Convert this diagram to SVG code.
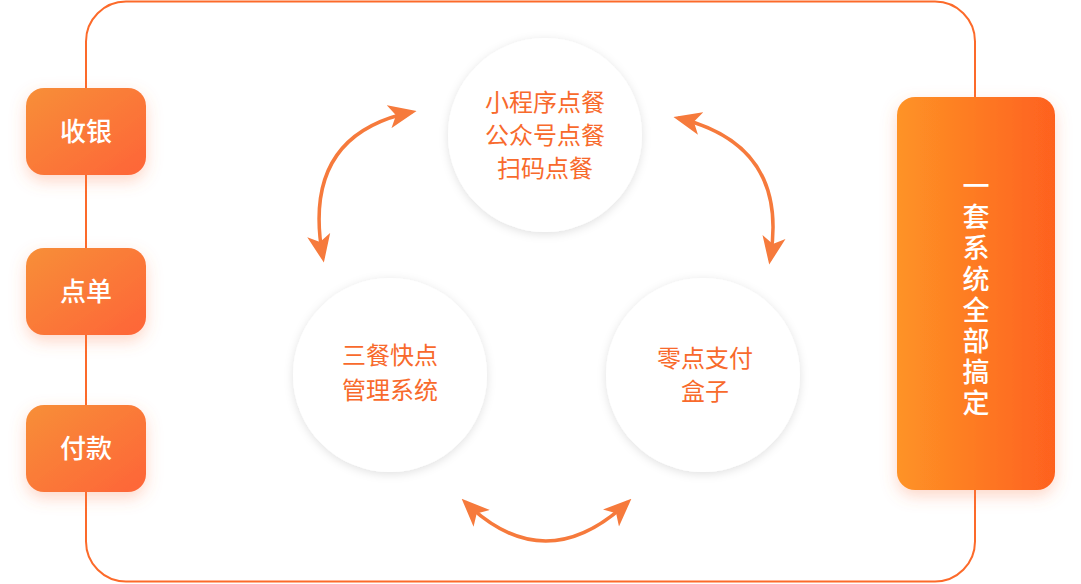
<svg xmlns="http://www.w3.org/2000/svg" width="1081" height="584" viewBox="0 0 1081 584">
<style>
.cj{font-family:"Noto Sans CJK SC","Noto Sans",sans-serif}
.bt{fill:#fff;font-size:26px;font-weight:500;text-anchor:middle}
.vt{fill:#fff;font-size:27px;font-weight:500;writing-mode:vertical-rl;text-orientation:upright;letter-spacing:4px}
.ct{fill:#f86a2c;font-size:24px;text-anchor:middle}
.circ{fill:#fff;filter:url(#cs)}
.arc{fill:none;stroke:#f67a3c;stroke-width:3.5;marker-start:url(#ah);marker-end:url(#ah)}
</style>
<defs>
<linearGradient id="g1" x1="0" y1="0" x2="1" y2="1"><stop offset="0" stop-color="#f78f38"/><stop offset="1" stop-color="#fe6438"/></linearGradient>
<linearGradient id="g2" x1="0" y1="0" x2="1" y2="0"><stop offset="0" stop-color="#fe9326"/><stop offset="1" stop-color="#fe611f"/></linearGradient>
<filter id="bs" x="-40%" y="-40%" width="180%" height="180%"><feDropShadow dx="0" dy="6" stdDeviation="8" flood-color="#fb7a4a" flood-opacity="0.3"/></filter>
<filter id="cs" x="-30%" y="-30%" width="160%" height="160%"><feDropShadow dx="0" dy="2" stdDeviation="5" flood-color="#000" flood-opacity="0.12"/></filter>
<marker id="ah" viewBox="0 0 12 10" refX="10" refY="5" markerWidth="8" markerHeight="7" orient="auto-start-reverse" markerUnits="strokeWidth"><path d="M0,0 L12,5 L0,10 L3,5 Z" fill="#f67a3c"/></marker>
</defs>
<rect x="86" y="1.5" width="889" height="580" rx="40" fill="none" stroke="#fc6a2a" stroke-width="2"/>
<g id="connectors">
<path class="arc" d="M323,258 Q300,135 412,112"/>
<path class="arc" d="M678,118 Q790,145 770,260"/>
<path class="arc" d="M465,502 Q545,580 628,502"/>
</g>
<g id="n-shouyin"><rect x="26" y="88" width="120" height="87" rx="18" fill="url(#g1)" filter="url(#bs)"/><text class="cj bt" x="86" y="141">收银</text></g>
<g id="n-diandan"><rect x="26" y="248" width="120" height="87" rx="18" fill="url(#g1)" filter="url(#bs)"/><text class="cj bt" x="86" y="301">点单</text></g>
<g id="n-fukuan"><rect x="26" y="405" width="120" height="87" rx="18" fill="url(#g1)" filter="url(#bs)"/><text class="cj bt" x="86" y="458">付款</text></g>
<g id="n-right"><rect x="897" y="97" width="158" height="393" rx="18" fill="url(#g2)" filter="url(#bs)"/>
<text class="cj vt" x="976" y="172">一套系统全部搞定</text></g>
<g id="n-top"><circle class="circ" cx="545" cy="135" r="97"/><text class="cj ct" x="545"><tspan x="545" y="111">小程序点餐</tspan><tspan x="545" y="144">公众号点餐</tspan><tspan x="545" y="177">扫码点餐</tspan></text></g>
<g id="n-left"><circle class="circ" cx="390" cy="375" r="97"/><text class="cj ct" x="390"><tspan x="390" y="364">三餐快点</tspan><tspan x="390" y="399">管理系统</tspan></text></g>
<g id="n-rightc"><circle class="circ" cx="703" cy="375" r="97"/><text class="cj ct" x="705"><tspan x="705" y="367">零点支付</tspan><tspan x="705" y="400">盒子</tspan></text></g>
</svg>
